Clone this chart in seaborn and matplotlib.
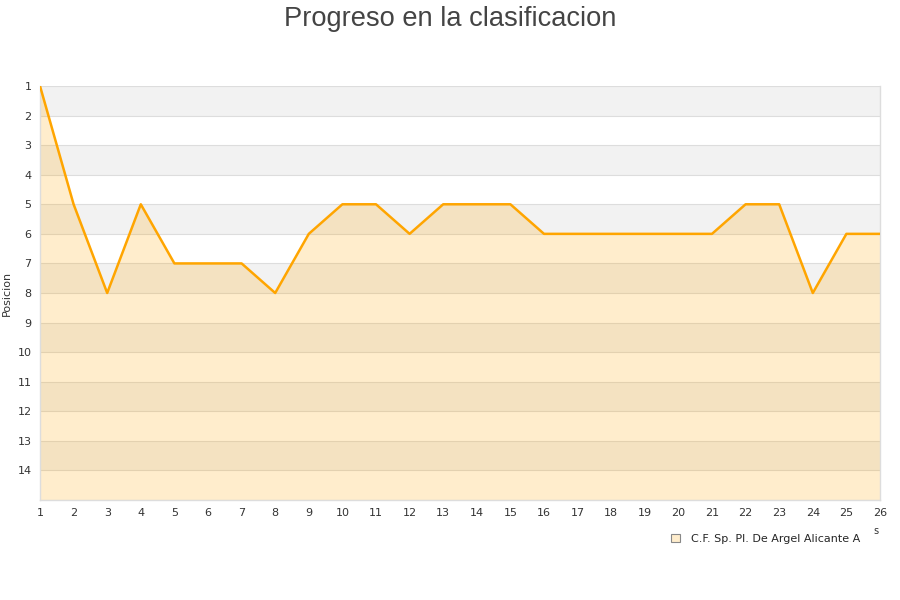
import matplotlib.pyplot as plt
import numpy as np
import pandas as pd
import seaborn as sns

jornadas = list(range(1, 27))
posiciones = [1, 5, 8, 5, 7, 7, 7, 8, 6, 5, 5, 6, 5, 5, 5, 6, 6, 6, 6, 6, 6, 5, 5, 8, 6, 6]
equipo = 'C.F. Sp. Pl. De Argel Alicante A'
y_ticks = list(range(1, 15))

sns.set_theme(style='white')
plt.rcParams['font.family'] = ['DejaVu Sans']

df = pd.DataFrame({'jornada': jornadas, 'posicion': posiciones})

fig = plt.figure(figsize=(9, 6), dpi=100)
ax = fig.add_axes([40 / 900, 1 - 500 / 600, 840 / 900, 414 / 600])

# bandas alternas
for k in range(1, 15, 2):
    ax.axhspan(k, k + 1, color='#f2f2f2', zorder=0, lw=0)
for k in range(1, 16):
    ax.axhline(k, color='#dddddd', lw=0.8, zorder=1)

ax.fill_between(df['jornada'], df['posicion'], 15, color='#ffa500', alpha=0.2, lw=0, zorder=2)
sns.lineplot(data=df, x='jornada', y='posicion', color='#ffa500', lw=1.8, ax=ax, zorder=3)

ax.set_xlim(1, 26)
ax.set_ylim(15, 1)
ax.set_xticks(jornadas)
ax.set_yticks(y_ticks)
ax.tick_params(axis='both', labelsize=8, colors='#333333', length=0, pad=6)
ax.set_xlabel('')
ax.set_ylabel('Posicion', fontsize=8, color='#333333')
ax.spines['top'].set_visible(False)
for s in ['left', 'bottom', 'right']:
    ax.spines[s].set_color('#dddddd')
    ax.spines[s].set_linewidth(1)

fig.text(0.5, 0.99, 'Progreso en la clasificacion', ha='center', va='top',
         fontsize=19.6, color='#444444', family=['Liberation Sans', 'DejaVu Sans'])

h = plt.Rectangle((0, 0), 1, 1, facecolor='#ffedcc', edgecolor='#888888', lw=0.8)
fig.legend([h], [equipo], loc='center', bbox_to_anchor=(766 / 900, 1 - 539 / 600),
           frameon=False, fontsize=8, handlelength=0.8, handleheight=0.8, handletextpad=1)
fig.text(876 / 900, 1 - 531 / 600, 's', fontsize=7, color='#333333', ha='center', va='center')

fig.savefig('out.png', dpi=100)
